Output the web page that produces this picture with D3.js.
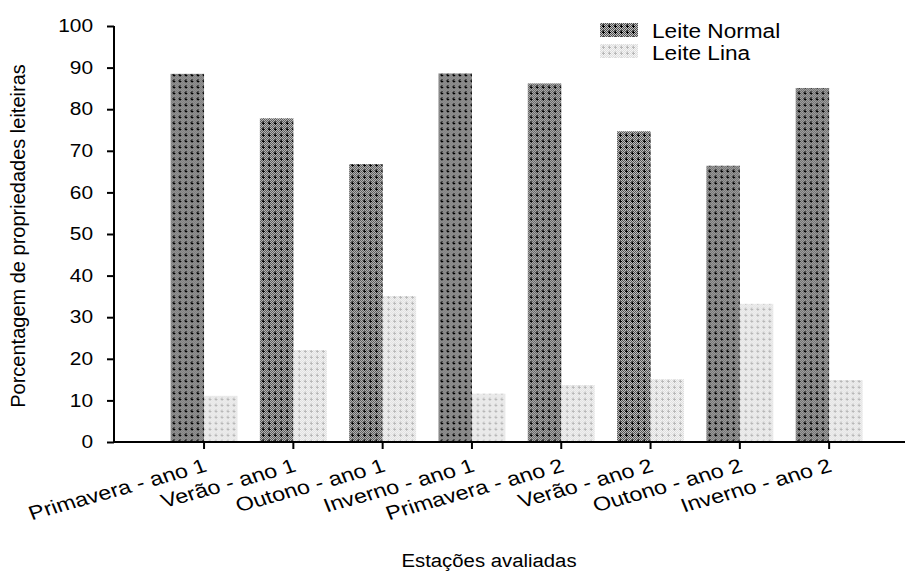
<!DOCTYPE html>
<html>
<head>
<meta charset="utf-8">
<script src="https://cdn.jsdelivr.net/npm/d3@7"></script>
<style>
  body { margin: 0; background: #fff; }
  svg text { font-family: "Liberation Sans", Arial, sans-serif; fill: #000; }
</style>
</head>
<body>
<svg id="chart" width="905" height="571"></svg>
<script>
// data
const seasons = ["Primavera - ano 1", "Verão - ano 1", "Outono - ano 1", "Inverno - ano 1",
                 "Primavera - ano 2", "Verão - ano 2", "Outono - ano 2", "Inverno - ano 2"];
const seriesNames = ["Leite Normal", "Leite Lina"];
const leiteNormal = [88.5, 77.8, 66.8, 88.6, 86.2, 74.7, 66.4, 85.1];
const leiteLina = [11.1, 22.1, 35.1, 11.6, 13.7, 15.1, 33.2, 14.9];
const yTicks = [0, 10, 20, 30, 40, 50, 60, 70, 80, 90, 100];

const rows = seasons.map((s, i) => ({season: s, values: [leiteNormal[i], leiteLina[i]]}));

const svg = d3.select("#chart");
const axisLeftX = 114;
const chartTop = 26;
const chartBottom = 442;
const fontFam = "'Liberation Sans', Arial, sans-serif";
// the reference lettering is a bit wider than Liberation Sans
const stretch = 1.16;

// patterns imitating the hatched fills
const defs = svg.append("defs");
const dots = [[0,0],[2,0],[4,0],[1,1],[5,1],[0,2],[4,2],[1,3],[5,3],[0,4],[2,4],[4,4],[1,5],[3,5],[5,5]];
const patColors = [
    {bg: "#4e4e4e", dot: "#c4c4c4", cross: "#000"},
    {bg: "#dedede", dot: "#f5f5f5", cross: "#b8b8b8"}
];
patColors.forEach((c, i) => {
    const p = defs.append("pattern")
        .attr("id", "pat" + i).attr("patternUnits", "userSpaceOnUse")
        .attr("width", 6).attr("height", 6);
    p.append("rect").attr("width", 6).attr("height", 6).attr("fill", c.bg);
    dots.forEach(d => {
        p.append("rect").attr("x", d[0]).attr("y", d[1]).attr("width", 1).attr("height", 1).attr("fill", c.dot);
    });
    p.append("rect").attr("x", 2).attr("y", 3).attr("width", 3).attr("height", 1).attr("fill", c.cross);
    p.append("rect").attr("x", 3).attr("y", 2).attr("width", 1).attr("height", 3).attr("fill", c.cross);
});

// scales
const x0 = d3.scaleBand()
    .domain(seasons)
    .range([159.4, 873.8])
    .paddingInner(0.25)
    .paddingOuter(0.125);
const x1 = d3.scaleBand()
    .domain(seriesNames)
    .range([0, x0.bandwidth()]);
const y = d3.scaleLinear()
    .domain([0, 100])
    .range([chartBottom, chartTop]);

// bars
const groups = svg.append("g").selectAll("g")
    .data(rows)
    .join("g")
    .attr("transform", d => `translate(${x0(d.season)},0)`);
groups.selectAll("rect")
    .data(d => d.values.map((v, i) => ({name: seriesNames[i], value: v, idx: i})))
    .join("rect")
    .attr("x", d => x1(d.name))
    .attr("width", x1.bandwidth())
    .attr("y", d => y(d.value))
    .attr("height", d => y(0) - y(d.value))
    .attr("fill", d => `url(#pat${d.idx})`);

// y axis
const yAxisG = svg.append("g")
    .attr("transform", `translate(${axisLeftX},0)`)
    .call(d3.axisLeft(y).tickValues(yTicks).tickSize(7));
yAxisG.select(".domain").attr("stroke", "#000").attr("stroke-width", 2)
    .attr("d", `M0,${chartTop}V${chartBottom}`);
yAxisG.selectAll(".tick line").attr("stroke", "#000").attr("stroke-width", 2);
yAxisG.selectAll(".tick text")
    .style("font-size", "18px").style("font-family", fontFam)
    .attr("x", 0)
    .attr("transform", `translate(-21,0) scale(${stretch},1)`);

// x axis
const xAxisG = svg.append("g")
    .attr("transform", `translate(0,${chartBottom})`)
    .call(d3.axisBottom(x0).tickSize(7));
xAxisG.select(".domain").attr("stroke", "#000").attr("stroke-width", 2)
    .attr("d", `M${axisLeftX - 1},0H905`);
xAxisG.selectAll(".tick line").attr("stroke", "#000").attr("stroke-width", 2);
xAxisG.selectAll(".tick text")
    .style("font-size", "19.5px")
    .style("font-family", fontFam)
    .attr("text-anchor", "end")
    .attr("y", 0)
    .attr("dy", 0)
    .attr("transform", `translate(4,29) scale(1.2,1) rotate(-18.5)`);

// axis titles
svg.append("text")
    .attr("transform", `translate(25,${(chartTop + chartBottom) / 2 + 2}) rotate(-90)`)
    .attr("text-anchor", "middle")
    .style("font-size", "20px")
    .text("Porcentagem de propriedades leiteiras");
svg.append("text")
    .attr("transform", `translate(489,567) scale(1.13,1)`)
    .attr("text-anchor", "middle")
    .style("font-size", "18px")
    .text("Estações avaliadas");

// legend
const legend = svg.append("g").attr("transform", "translate(600,23)");
seriesNames.forEach((name, i) => {
    const row = legend.append("g").attr("transform", `translate(0,${i * 21})`);
    row.append("rect").attr("width", 38).attr("height", 14).attr("fill", `url(#pat${i})`);
    row.append("text")
        .attr("transform", `translate(52,${15 + i}) scale(${stretch},1)`)
        .style("font-size", "19.5px")
        .text(name);
});
</script>
</body>
</html>
